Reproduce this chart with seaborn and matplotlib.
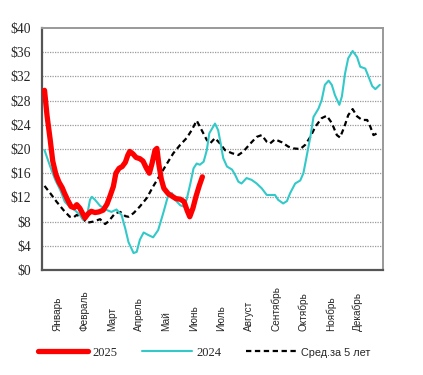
import numpy as np
import pandas as pd
import matplotlib
matplotlib.use("Agg")
import matplotlib.pyplot as plt
import seaborn as sns

# --- data (x = week of year, y = price, $) ---
weeks_2025 = [0.4, 0.8, 1.3, 1.7, 2.2, 2.7, 3.2, 3.6, 4.1, 4.6, 5.1, 5.5, 6.0, 6.5, 6.8,
              7.3, 7.8, 8.4, 9.0, 9.7, 10.3, 10.8, 11.3, 11.7, 12.2, 12.7, 13.2, 13.6,
              13.9, 14.4, 14.9, 15.5, 16.0, 16.5, 17.0, 17.4, 17.9, 18.2, 18.5, 18.9,
              19.3, 20.0, 20.6, 21.2, 21.9, 22.5, 23.0, 23.4, 23.9, 24.4, 24.9, 25.4]
price_2025 = [29.7, 25.5, 21.5, 18.0, 15.8, 14.5, 13.6, 12.6, 11.5, 10.5, 10.3, 10.8, 10.2,
              9.2, 8.6, 9.3, 9.7, 9.5, 9.6, 9.9, 10.9, 12.3, 13.8, 16.0, 16.8, 17.1, 17.8,
              19.0, 19.6, 19.2, 18.6, 18.4, 18.0, 16.9, 16.0, 17.5, 19.8, 20.1, 17.5, 15.0,
              13.5, 12.6, 12.2, 11.8, 11.7, 11.3, 9.8, 8.8, 10.2, 12.2, 13.9, 15.4]

weeks_2024 = [0.4, 1.3, 2.1, 2.9, 3.6, 4.4, 5.2, 6.0, 6.5, 7.1, 7.6, 7.9, 8.4, 9.2, 10.3,
              11.0, 11.8, 12.6, 13.2, 13.7, 14.5, 15.0, 15.5, 16.1, 16.8, 17.6, 18.4, 19.2,
              20.0, 20.6, 21.1, 21.9, 22.4, 22.9, 23.5, 24.0, 24.5, 25.0, 25.6, 26.1, 26.5,
              27.4, 27.9, 28.3, 28.7, 29.3, 30.1, 30.6, 31.1, 31.6, 32.4, 33.2, 34.0, 34.8,
              35.6, 36.4, 36.9, 37.4, 38.2, 38.8, 39.3, 40.1, 40.9, 41.4, 41.9, 42.5, 43.0,
              43.8, 44.3, 44.8, 45.4, 45.9, 46.4, 47.1, 47.5, 48.0, 48.5, 49.2, 49.9, 50.4,
              51.2, 51.7, 52.3, 52.8, 53.5]
price_2024 = [19.8, 17.1, 14.9, 13.2, 11.3, 10.4, 9.9, 9.1, 8.3, 8.8, 11.6, 12.1, 11.6, 10.6,
              9.9, 9.6, 10.0, 9.1, 6.8, 4.6, 2.8, 3.0, 5.0, 6.2, 5.8, 5.4, 6.6, 9.4, 12.4,
              12.7, 11.6, 10.7, 10.5, 11.6, 14.3, 16.8, 17.6, 17.4, 17.9, 19.8, 22.6, 24.2,
              23.1, 20.9, 18.5, 17.1, 16.6, 15.7, 14.6, 14.3, 15.2, 14.9, 14.3, 13.5, 12.4,
              12.4, 12.4, 11.6, 11.0, 11.4, 12.7, 14.3, 14.8, 16.0, 18.7, 22.0, 25.3, 26.7,
              28.1, 30.6, 31.3, 30.6, 28.9, 27.3, 28.7, 32.5, 35.0, 36.2, 35.2, 33.6, 33.3,
              32.0, 30.4, 29.9, 30.6]

weeks_avg = [0.4, 1.3, 2.3, 3.4, 4.4, 5.0, 5.5, 6.3, 7.1, 8.1, 9.2, 10.0, 10.5, 11.6, 12.4,
             13.2, 13.7, 14.5, 15.5, 16.6, 17.6, 18.7, 19.8, 20.8, 21.9, 22.9, 23.7, 24.5,
             25.3, 26.1, 26.6, 27.4, 28.2, 29.0, 30.1, 31.1, 31.9, 33.0, 34.0, 34.8, 35.6,
             36.1, 36.9, 38.0, 39.0, 39.8, 40.9, 41.7, 42.5, 43.3, 44.3, 45.1, 45.9, 46.7,
             47.2, 47.9, 48.5, 49.2, 49.9, 50.7, 51.5, 52.0, 52.5, 53.1]
price_avg = [13.9, 12.7, 11.3, 9.9, 8.8, 8.7, 9.1, 8.7, 7.8, 8.0, 8.4, 7.6, 8.0, 9.4, 9.6,
             8.9, 8.8, 9.4, 10.5, 11.9, 13.8, 15.7, 17.6, 19.3, 20.7, 21.8, 23.1, 24.7, 23.1,
             21.5, 20.9, 21.8, 20.9, 19.8, 19.3, 19.0, 19.6, 20.9, 22.0, 22.3, 21.2, 20.9,
             21.6, 21.1, 20.4, 20.1, 20.0, 20.7, 22.0, 23.7, 25.1, 25.5, 24.3, 22.3, 21.9,
             23.7, 25.6, 26.6, 25.4, 24.8, 24.8, 23.7, 22.3, 22.6]

months = ["Январь", "Февраль", "Март", "Апрель", "Май", "Июнь", "Июль", "Август",
          "Сентябрь", "Октябрь", "Ноябрь", "Декабрь"]
y_ticks = [0, 4, 8, 12, 16, 20, 24, 28, 32, 36, 40]

# --- plot ---
sns.set_style("white")
fig = plt.figure(figsize=(4.23, 3.75), dpi=100)
ax = fig.add_axes([0.0993, 0.28, 0.806, 0.6453])

sns.lineplot(x=weeks_avg, y=price_avg, ax=ax, color="black", lw=1.6,
             sort=False, estimator=None, label="Сред.за 5 лет", zorder=3)
ax.lines[-1].set_dashes((2.4, 1.6))
sns.lineplot(x=weeks_2024, y=price_2024, ax=ax, color="#33C9C9", lw=1.5,
             sort=False, estimator=None, label="2024", zorder=4)
sns.lineplot(x=weeks_2025, y=price_2025, ax=ax, color="#FF0000", lw=3.8,
             sort=False, estimator=None, label="2025", zorder=5)
for ln in ax.lines:
    ln.set_solid_capstyle("round")

ax.set_xlim(0, 54)
ax.set_ylim(0, 40)
ax.set_yticks(y_ticks)
ax.set_yticklabels([f"${v}" for v in y_ticks], family="Liberation Serif", fontsize=9.8)
for v in y_ticks[1:-1]:
    ax.axhline(v, color="#9a9a9a", lw=0.9, ls=(0, (1, 1)), zorder=1)

month_pos = [2.4 + i * 52 / 12 for i in range(12)]
ax.set_xticks(month_pos)
ax.set_xticklabels(months, rotation=90, va="bottom", ha="center",
                   family="Liberation Sans", fontsize=7.2)
ax.tick_params(axis="x", length=0, pad=44)
ax.tick_params(axis="y", length=0, pad=8)
ax.set_xlabel("")
ax.set_ylabel("")

for side in ["left", "bottom"]:
    ax.spines[side].set_color("#555555")
    ax.spines[side].set_linewidth(1.6)
for side in ["top", "right"]:
    ax.spines[side].set_color("#999999")
    ax.spines[side].set_linewidth(1.4)

handles, labels = ax.get_legend_handles_labels()
order = [labels.index("2025"), labels.index("2024"), labels.index("Сред.за 5 лет")]
ax.legend_.remove()
leg = fig.legend([handles[i] for i in order], [labels[i] for i in order],
                 loc="center", bbox_to_anchor=(0.482, 0.06), ncol=3, frameon=False,
                 handlelength=4.0, handletextpad=0.35, columnspacing=2.0,
                 prop={"family": "Liberation Serif", "size": 9})
leg.get_texts()[2].set_family("Liberation Sans")
leg.get_texts()[2].set_fontsize(7.8)

fig.savefig("out.png", dpi=100)
